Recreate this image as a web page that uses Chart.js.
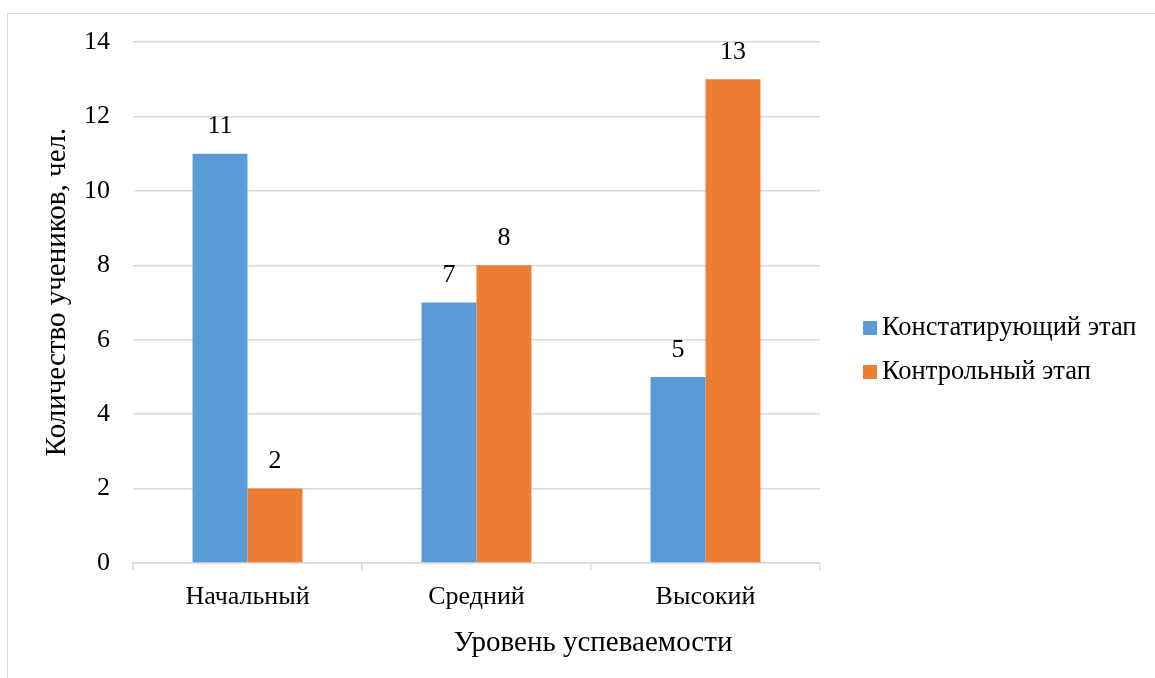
<!DOCTYPE html>
<html lang="ru">
<head>
<meta charset="utf-8">
<title>Уровень успеваемости</title>
<script src="https://cdn.jsdelivr.net/npm/chart.js@4/dist/chart.umd.min.js"></script>
<style>
  html, body { margin: 0; padding: 0; background: #fff; }
  body { width: 1155px; height: 678px; position: relative; overflow: hidden; }
  .frame {
    position: absolute; left: 7px; top: 13px; width: 1200px; height: 700px;
    border: 1px solid #d9d9d9; box-sizing: border-box;
  }
  #wrap { position: absolute; left: 0; top: 0; width: 1155px; height: 678px; }
</style>
</head>
<body>
<div class="frame"></div>
<div id="wrap"><canvas id="chart"></canvas></div>
<script>
// categories, series and axis ticks
const levels = ["Начальный", "Средний", "Высокий"];
const stageStart = [11, 7, 5];
const stageControl = [2, 8, 13];
const seriesNames = ["Констатирующий этап", "Контрольный этап"];
const yTicks = [0, 2, 4, 6, 8, 10, 12, 14];

const FONT = "'Liberation Serif', 'Times New Roman', serif";
const BLUE = "#5b9bd5";
const ORANGE = "#ed7d31";
const GRID = "#d9d9d9";

// value labels over each bar
const valueLabels = {
  id: "valueLabels",
  afterDatasetsDraw(chart) {
    const ctx = chart.ctx;
    ctx.save();
    ctx.font = "26px " + FONT;
    ctx.fillStyle = "#000";
    ctx.textAlign = "center";
    ctx.textBaseline = "middle";
    chart.data.datasets.forEach((ds, i) => {
      chart.getDatasetMeta(i).data.forEach((bar, j) => {
        ctx.fillText(String(ds.data[j]), bar.x, bar.y - 27);
      });
    });
    ctx.restore();
  }
};

// legend on the right and the two axis titles
const sideText = {
  id: "sideText",
  afterDraw(chart) {
    const ctx = chart.ctx;
    ctx.save();
    ctx.fillStyle = "#000";
    ctx.font = "26.5px " + FONT;
    ctx.textBaseline = "middle";
    ctx.textAlign = "left";
    chart.data.datasets.forEach((ds, i) => {
      const y = 328 + i * 44;
      ctx.fillStyle = ds.backgroundColor;
      ctx.fillRect(863, y - 7, 14, 14);
      ctx.fillStyle = "#000";
      ctx.fillText(ds.label, 882, y);
    });

    ctx.font = "29px " + FONT;
    ctx.textAlign = "center";
    ctx.fillText("Уровень успеваемости", 593, 643);

    ctx.translate(57, 292);
    ctx.rotate(-Math.PI / 2);
    ctx.fillText("Количество учеников, чел.", 0, 0);
    ctx.restore();
  }
};

new Chart(document.getElementById("chart"), {
  type: "bar",
  data: {
    labels: levels,
    datasets: [
      { label: seriesNames[0], data: stageStart, backgroundColor: BLUE },
      { label: seriesNames[1], data: stageControl, backgroundColor: ORANGE }
    ]
  },
  options: {
    responsive: true,
    maintainAspectRatio: false,
    animation: false,
    layout: { padding: { top: 42, right: 335, left: 0, bottom: 0 } },
    datasets: { bar: { categoryPercentage: 0.48, barPercentage: 1 } },
    plugins: {
      legend: { display: false },
      tooltip: { enabled: false }
    },
    scales: {
      x: {
        afterFit(scale) { scale.height = 115; },
        grid: { drawOnChartArea: false, drawTicks: true, tickLength: 7, color: GRID, lineWidth: 1.5 },
        border: { color: GRID, width: 1.5 },
        ticks: { color: "#000", font: { family: FONT, size: 26 }, padding: 12 }
      },
      y: {
        min: 0,
        max: 14,
        afterFit(scale) { scale.width = 133; },
        afterBuildTicks(scale) { scale.ticks = yTicks.map(v => ({ value: v })); },
        grid: { color: GRID, lineWidth: 1.5, drawTicks: false },
        border: { display: false },
        ticks: { color: "#000", font: { family: FONT, size: 26 }, padding: 23 }
      }
    }
  },
  plugins: [valueLabels, sideText]
});
</script>
</body>
</html>
